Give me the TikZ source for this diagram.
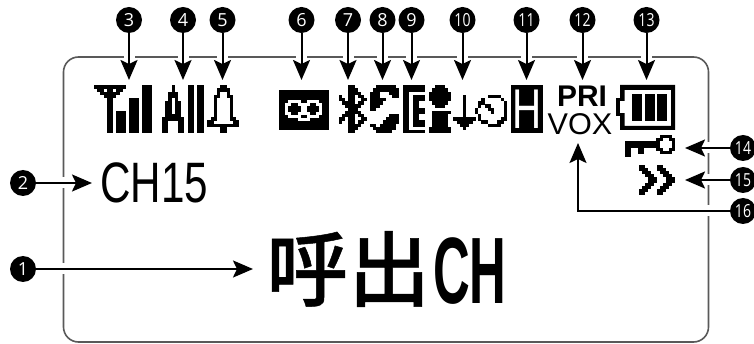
\documentclass[tikz,border=0pt]{standalone}
\usepackage{fontspec}
\usetikzlibrary{arrows.meta}
\setmainfont{Liberation Sans}
\newfontfamily\numfont{Open Sans}
\newfontfamily\cjkfont[FakeBold=0.6]{Noto Sans CJK JP Medium}
\newcount\bmi
\def\bmcolor{black}
\def\bmscan#1{\ifx#1\relax\else\if#1x\fill[\bmcolor] ({\bmx+\the\bmi*\bmu},{\bmy+\j*\bmu}) rectangle ++({\bmu+0.06},{\bmu+0.06});\fi\advance\bmi by 1\relax\expandafter\bmscan\fi}
\def\bmrow#1{\bmi=0\relax\bmscan#1\relax}
\newcommand\bitmap[4]{\def\bmx{#1}\def\bmy{#2}\def\bmu{#3}\foreach \r [count=\j from 0] in {#4}{\expandafter\bmrow\expandafter{\r}}}
\tikzset{
  bub/.style={circle,fill=black,text=white,minimum size=26pt,inner sep=0pt,font=\numfont\fontsize{18}{18}\selectfont},
  lead/.style={line width=2pt,-{Stealth[length=20pt,width=17pt,inset=4pt]},preaction={draw=white,line width=11pt,-}},
  lcd/.style={inner sep=0pt,text=black},
}
\newcommand\nn[1]{\scalebox{.78}[1]{#1}}
\begin{document}
\begin{tikzpicture}[x=1pt,y=-1pt]
\useasboundingbox (0,0) rectangle (754,344);
\draw[line width=1.6pt,draw=black!65,rounded corners=15pt] (63.5,57) rectangle (708.5,342);
% callouts
\node[bub] (b1) at (23,269) {1};
\node[bub] (b2) at (23,183) {2};
\node[bub] (b3) at (129,20) {3};
\node[bub] (b4) at (183,20) {4};
\node[bub] (b5) at (222.5,20) {5};
\node[bub] (b6) at (301.5,20) {6};
\node[bub] (b7) at (348,20) {7};
\node[bub] (b8) at (382.5,20) {8};
\node[bub] (b9) at (411.5,20) {9};
\node[bub] (b10) at (462.5,20) {\nn{10}};
\node[bub] (b11) at (526.5,20) {\nn{11}};
\node[bub] (b12) at (582.5,20) {\nn{12}};
\node[bub] (b13) at (646.5,20) {\nn{13}};
\node[bub] (b14) at (743,148) {\nn{14}};
\node[bub] (b15) at (743,180) {\nn{15}};
\node[bub] (b16) at (743,211) {\nn{16}};
\coordinate (t1) at (253,269);
\coordinate (t2) at (92,183);
\foreach \n/\x in {3/129,4/183,5/222.5,6/301.5,7/348,8/382.5,9/411.5,10/462.5,11/526.5,12/582.5,13/646.5}{\coordinate (t\n) at (\x,80);}
\coordinate (t14) at (685,148);
\coordinate (t15) at (685,180);
\coordinate (t16) at (578,143);
\foreach \n in {1,2,3,4,5,6,7,8,9,10,11,12,13,14,15}{\draw[lead] (b\n) -- (t\n);}
\draw[lead] (b16) -| (t16);
% antenna + bars
\bitmap{94}{85.3}{3.2}{xxxxxxxxxxoooooxxx,oxxoxxoxxooooooxxx,ooxxxxxxoooooooxxx,oooxxxxooooooooxxx,ooooxxoooooxxxoxxx,ooooxxoooooxxxoxxx,ooooxxoooooxxxoxxx,ooooxxoooooxxxoxxx,ooooxxoxxxoxxxoxxx,ooooxxoxxxoxxxoxxx,ooooxxoxxxoxxxoxxx,ooooxxoxxxoxxxoxxx,ooooxxoxxxoxxxoxxx,ooooxxoxxxoxxxoxxx,ooooxxoxxxoxxxoxxx}
% All
\bitmap{162}{85.3}{3.2}{oooxooooxxoxx,oooxooooxxoxx,ooxxxoooxxoxx,ooxxxoooxxoxx,ooxoxoooxxoxx,oxxoxxooxxoxx,oxxoxxooxxoxx,oxxoxxooxxoxx,oxxoxxooxxoxx,oxxxxxooxxoxx,xxxxxxxoxxoxx,xxoooxxoxxoxx,xxoooxxoxxoxx,xxoooxxoxxoxx,xxoooxxoxxoxx}
% bell
\bitmap{207.3}{85.3}{3.2}{ooooxxoooo,oooxxxxooo,oooxooxooo,ooxxooxxoo,ooxooooxoo,ooxooooxoo,ooxooooxoo,ooxooooxoo,ooxooooxoo,ooxooooxoo,oxxooooxxo,xxooooooxx,xxxxxxxxxx,ooooxxoooo,ooooxxoooo}
% tape
\fill (279,90.3) rectangle (328.7,130.3);
\def\bmcolor{white}
\bitmap{279}{90.3}{3.1}{oooooooooooooooo,oooooooooooooooo,oooooooooooooooo,oooxxxxooxxxxooo,ooxxooxxxxooxxoo,ooxooooxxooooxoo,ooxooooxxooooxoo,ooxxooxxxxooxxoo,oooxxxxooxxxxooo,ooooooxxxxoooooo}
\def\bmcolor{black}
% bluetooth
\bitmap{338.5}{85.3}{3.2}{oooxxoooo,oooxxxooo,oooxxxxoo,xooxxoxxo,xxoxxooxx,oxxxxoxxo,ooxxxxxoo,oooxxxooo,ooxxxxxoo,oxxxxoxxo,xxoxxooxx,xooxxoxxo,oooxxxxoo,oooxxxooo,oooxxoooo}
% icon 8
\bitmap{370}{85.3}{3.2}{ooxxxxxxo,oxxxxxxxx,xxxoooxxx,xxxooooxx,xxxxxoooo,xxxxooooo,xxxoooooo,xxooooooo,ooooooooo,ooooooxxx,oooooxxxx,ooooxxxxx,xxoxxxxxo,oxxxxxxxo,ooxxxxxoo}
% icon 9
\bitmap{403}{85.3}{3.2}{xxxxxxx,xxxxxxx,xxooooo,xxoxxxx,xxoxxxx,xxoxxoo,xxoxxoo,xxoxxxx,xxoxxxx,xxoxxoo,xxoxxoo,xxoxxxx,xxoxxxx,xxooooo,xxxxxxx}
% icon 10
\bitmap{429}{85.3}{3.2}{ooxxxoo,oxxxxxo,xxxxxxx,xxxxxxx,xxxxxxx,oxxxxxo,ooxxxoo,ooooooo,oxxxxxx,oxxxxxo,oxxxxxo,oxxxxxo,oxxxxxo,xxxxxxx,xxxxxxx}
\bitmap{453.3}{85.3}{3.2}{ooooooo,ooooooo,ooooooo,oooxooo,oooxooo,oooxooo,oooxooo,oooxooo,oooxooo,oooxooo,xxxxxxx,oxxxxxo,ooxxxoo,oooxooo}
\bitmap{475}{85.3}{3.2}{oooooooooo,oooooooooo,oooooooooo,ooooxxxxoo,ooxoooooxo,oxxoooooox,oxoxxoooox,xoooxxooox,xooooxooox,oxooooooox,oxooooooxx,ooxxoooxxo,ooooxxxxoo}
% icon 11
\fill (511,85.3) rectangle (543.3,133.3);
\node[lcd,text=white,font=\fontsize{56}{56}\selectfont] (h) at (527.2,109.3) {\scalebox{.72}[1]{H}};
% PRI VOX
\node[lcd,font=\bfseries\fontsize{26}{26}\selectfont] (pri) at (582,96) {\scalebox{1.15}[1.15]{PRI}};
\node[lcd,font=\fontsize{30}{30}\selectfont] (vox) at (580,124.5) {\scalebox{1.02}[1]{VOX}};
% battery
\fill[even odd rule] (620,85) rectangle (675,130) (624.5,90) rectangle (671,126);
\fill (616,98) rectangle (621,116);
\fill[white] (619.5,101) rectangle (624.5,113);
\fill (631.7,94.3) rectangle (641.7,120.7);
\fill (645,94.3) rectangle (655,120.7);
\fill (657,94.3) rectangle (667,120.7);
% key
\bitmap{625}{135}{3.14}{oooooooooooxxxxo,ooooooooooxxooxx,xxxxxxxxxxxoooox,xxxxxxxxxxxoooox,xxooxxooooxxooxx,xxooxxoooooxxxxo,xxoooooooooooooo}
% chevrons
\bitmap{639}{165}{3}{xxooooxxoooo,xxxoooxxxooo,oxxxoooxxxoo,ooxxxoooxxxo,oooxxxoooxxx,oooxxxoooxxx,ooxxxoooxxxo,oxxxoooxxxoo,xxxoooxxxooo,xxooooxxoooo}
% texts
\node[lcd,anchor=west,font=\fontsize{57}{57}\selectfont] (ch) at (100,183) {\scalebox{.74}[1]{CH15}};
\node[lcd,anchor=west,font=\fontsize{82}{82}\selectfont] (main) at (266,269) {{\cjkfont 呼出}\hspace{3pt}\raisebox{-4pt}{\scalebox{.62}[1.15]{\bfseries CH}}};
\end{tikzpicture}
\end{document}
